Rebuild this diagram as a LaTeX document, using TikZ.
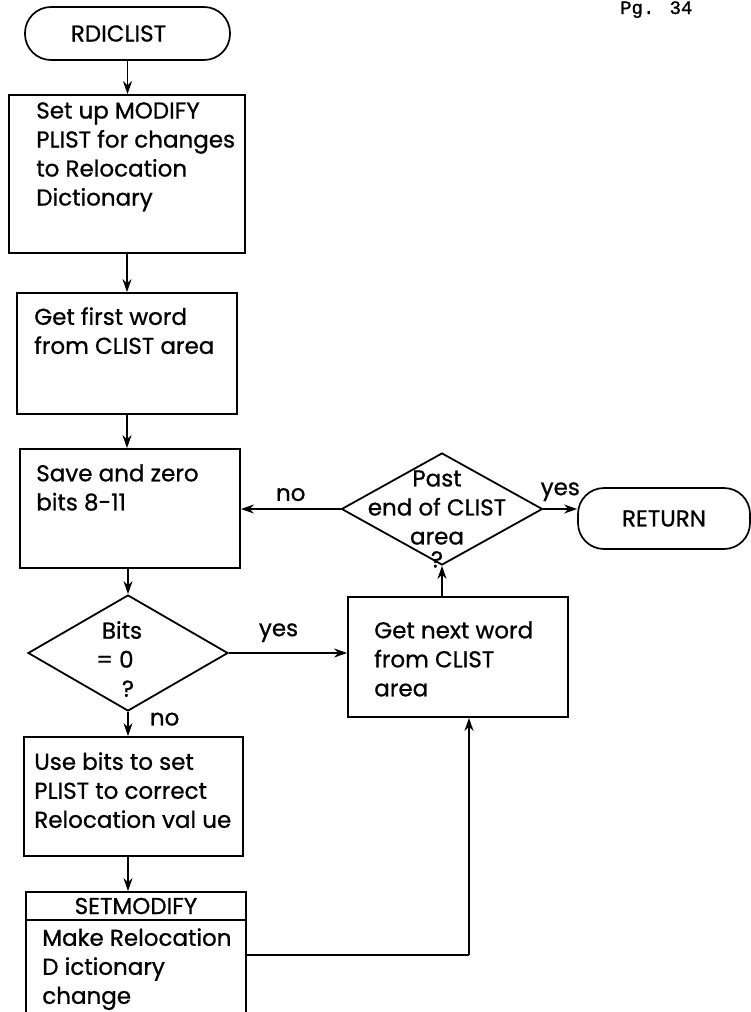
\documentclass[tikz,border=0pt]{standalone}
\usepackage{fontspec}
\setmainfont{Poppins}[BoldFont=Poppins, BoldFeatures={FakeBold=0.8}]
\newfontfamily\typewriter{Liberation Mono}[FakeBold=1.2]
\usetikzlibrary{
  arrows.meta,
  positioning,
  shapes.geometric
}

\begin{document}
\begin{tikzpicture}[
  x=1pt, y=-1pt,
  font=\bfseries\fontsize{23}{29}\selectfont,
  % Node styles
  terminal/.style={
    rectangle,
    draw=black,
    line width=1.7pt,
    rounded corners=26pt,
    inner sep=0pt,
  },
  procbox/.style={
    rectangle,
    draw=black,
    line width=1.8pt,
    inner sep=0pt,
  },
  decision/.style={
    diamond,
    draw=black,
    line width=1.8pt,
    inner sep=0pt,
  },
  boxtext/.style={
    anchor=north west,
    align=left,
    inner sep=0pt,
  },
  choicetext/.style={
    align=center,
    inner sep=0pt,
  },
  arrow/.style={
    -{Stealth[length=13pt,width=9pt]},
    line width=1.8pt,
  },
  flowline/.style={
    line width=1.8pt,
  },
  branch/.style={
    inner sep=7pt,
  },
]

\path[use as bounding box, clip] (0,0) rectangle (751,1012);

% ── Page number ──
\node[font=\typewriter\fontsize{19}{19}\selectfont, anchor=base west, inner sep=0pt] (pagenum) at (620,14) {Pg. 34};

% ── Terminals ──
\node[terminal, minimum width=205pt, minimum height=53pt] (start) at (127.5,33.5) {\hspace*{-18pt}RDICLIST};
\node[terminal, minimum width=172pt, minimum height=61pt] (ret) at (664,518.5) {RETURN};

% ── Left column ──
\node[procbox, minimum width=236pt, minimum height=158pt,
  label={[boxtext, xshift=28pt, yshift=-8pt]north west:{Set up MODIFY\\PLIST for changes\\to Relocation\\Dictionary}}]
  (setup) at (127,174) {};
\node[procbox, minimum width=220pt, minimum height=121pt,
  label={[boxtext, xshift=18pt, yshift=-15pt]north west:{Get first word\\from CLIST area}}]
  (first) at (127,353.5) {};
\node[procbox, minimum width=220pt, minimum height=119pt,
  label={[boxtext, xshift=17pt, yshift=-16pt]north west:{Save and zero\\bits 8-11}}]
  (save) at (130,508.5) {};
\node[decision, minimum width=200pt, minimum height=116pt,
  label={[choicetext, xshift=-6pt, yshift=-6pt]center:{Bits\\\hspace*{-14pt}= 0\\\hspace*{12pt}?}}]
  (bits) at (128,653) {};
\node[procbox, minimum width=219pt, minimum height=119pt,
  label={[boxtext, xshift=11pt, yshift=-16pt]north west:{Use bits to set\\PLIST to correct\\Relocation val ue}}]
  (usebits) at (133.5,796.5) {};
\node[procbox, minimum width=220pt, minimum height=28pt] (setmodhead) at (136,906) {SETMODIFY};
\node[procbox, minimum width=220pt, minimum height=120pt,
  label={[boxtext, xshift=17pt, yshift=-9pt]north west:{Make Relocation\\D ictionary\\change}}]
  (setmod) at (136,980) {};

% ── Right column ──
\node[decision, minimum width=201pt, minimum height=112pt,
  label={[choicetext, xshift=-5pt, yshift=-10pt]center:{Past\\end of CLIST\\area\\[-6pt]?}}]
  (past) at (442,509) {};
\node[procbox, minimum width=220pt, minimum height=120pt,
  label={[boxtext, xshift=27pt, yshift=-25pt]north west:{Get next word\\from CLIST\\area}}]
  (next) at (458,657) {};

\coordinate (loopcorner) at (469,955);

% ── Arrows ──
\draw[arrow] (start.south) -- (start.south |- setup.north);
\draw[arrow] (setup.south) -- (setup.south |- first.north);
\draw[arrow] (first.south) -- (first.south |- save.north);
\draw[arrow] (save.south -| bits.north) -- (bits.north);
\draw[arrow] (bits.south) -- (bits.south |- usebits.north)
  node[pos=0.3, right, branch, xshift=14pt] {no};
\draw[arrow] (bits.south |- usebits.south) -- (bits.south |- setmodhead.north);

% Bits = 0 → next word
\draw[arrow] (bits.east) -- (bits.east -| next.west)
  node[pos=0.42, above, branch, yshift=3pt] {yes};

% Next word → end test
\draw[arrow] (past.south |- next.north) -- (past.south);

% End test → save / return
\draw[arrow] (past.west) -- (past.west -| save.east)
  node[midway, above, branch] {no};
\draw[arrow] (past.east) -- (past.east -| ret.west)
  node[midway, above, branch] {yes};

% Loop back from SETMODIFY
\draw[flowline] (setmod.east |- loopcorner) -- (loopcorner);
\draw[arrow] (loopcorner) -- (loopcorner |- next.south);

\end{tikzpicture}
\end{document}
